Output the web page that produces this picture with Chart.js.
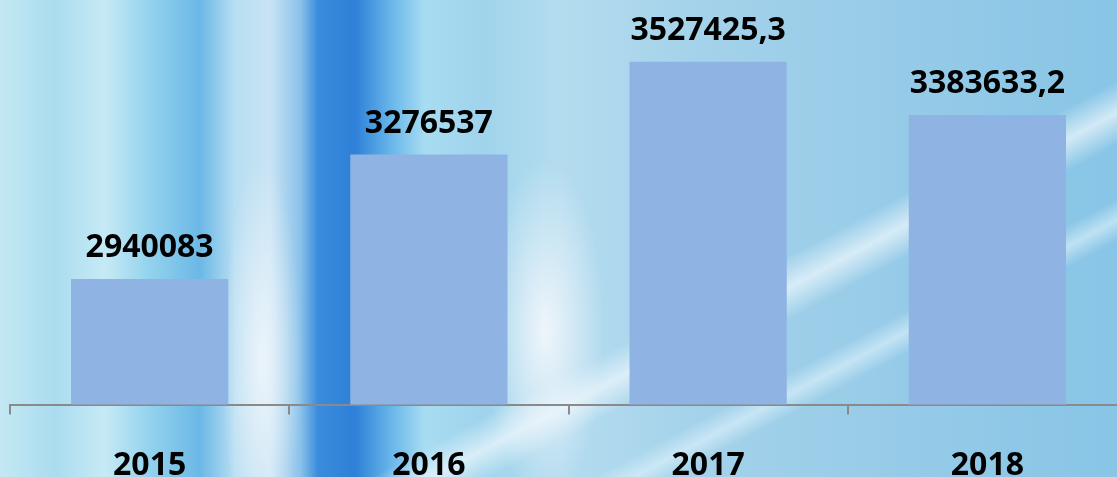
<!DOCTYPE html>
<html>
<head>
<meta charset="utf-8">
<script src="https://cdn.jsdelivr.net/npm/chart.js@4.4.0/dist/chart.umd.min.js"></script>
<style>
  html, body { margin: 0; padding: 0; overflow: hidden; }
  body { width: 1117px; height: 477px; position: relative; }
  #bg {
    position: absolute; left: 0; top: 0; width: 1117px; height: 477px;
    background:
      radial-gradient(ellipse 60px 170px at 545px 330px, rgba(245,248,252,0.9), rgba(245,248,252,0) 100%),
      radial-gradient(ellipse 40px 200px at 262px 360px, rgba(245,248,252,0.8), rgba(245,248,252,0) 100%),
      linear-gradient(152deg, rgba(255,255,255,0) 63%, rgba(235,246,252,0.75) 66%, rgba(255,255,255,0) 69%, rgba(255,255,255,0) 74%, rgba(225,244,252,0.6) 76%, rgba(255,255,255,0) 78%),
      linear-gradient(to right,
        #c4e8f3 0px, #aadcef 55px, #c6eaf5 105px, #93d2ee 150px, #6bb8e6 200px,
        #b8def2 235px, #c8e4f4 270px, #8cc3ea 300px, #3a8cdd 318px, #2e80d8 355px,
        #6ab7ea 392px, #a8dcf2 425px, #9fd4ec 480px, #b4dcef 560px, #a4d2ea 700px,
        #96cbe8 900px, #88c5e6 1117px);
  }
  #chart_bar { position: absolute; left: 0; top: 0; }
</style>
</head>
<body>
<div id="bg"></div>
<canvas id="chart_bar" width="1140" height="517"></canvas>
<script>
// Data
var years = ["2015", "2016", "2017", "2018"]
var values = [2940083, 3276537, 3527425.3, 3383633.2]
var y_min = 2600000
var y_max = 3600000

var fontFamily = "'Open Sans', 'Noto Sans', sans-serif"

// value labels above the bars
var valueLabels = {
  id: 'valueLabels',
  afterDatasetsDraw: function(chart) {
    var ctx = chart.ctx
    var meta = chart.getDatasetMeta(0)
    ctx.save()
    ctx.font = "bold 32px " + fontFamily
    ctx.fillStyle = "#000"
    ctx.textAlign = "center"
    ctx.textBaseline = "alphabetic"
    meta.data.forEach(function(bar, i) {
      var txt = String(values[i]).replace(".", ",")
      ctx.fillText(txt, bar.x, bar.y - 22)
    })
    ctx.restore()
  }
}

var config = {
  type: 'bar',
  data: {
    labels: years,
    datasets: [{
      data: values,
      backgroundColor: "#8fb3e2",
      borderWidth: 0,
      barPercentage: 0.563,
      categoryPercentage: 1.0
    }]
  },
  options: {
    responsive: false,
    animation: false,
    layout: { padding: { left: 10, right: 13, top: 35, bottom: 0 } },
    plugins: {
      legend: { display: false },
      tooltip: { enabled: false }
    },
    scales: {
      x: {
        grid: {
          display: true,
          drawOnChartArea: false,
          drawTicks: true,
          tickLength: 10,
          offset: true,
          color: "#8a8a8a",
          lineWidth: 2
        },
        border: { display: true, color: "#8a8a8a", width: 2 },
        ticks: {
          color: "#000",
          padding: 32,
          font: { family: fontFamily, size: 32, weight: "bold" }
        }
      },
      y: {
        display: false,
        min: y_min,
        max: y_max
      }
    }
  },
  plugins: [valueLabels]
}

var ctx = document.getElementById("chart_bar")
var ch_bar = new Chart(ctx, config)
</script>
</body>
</html>
